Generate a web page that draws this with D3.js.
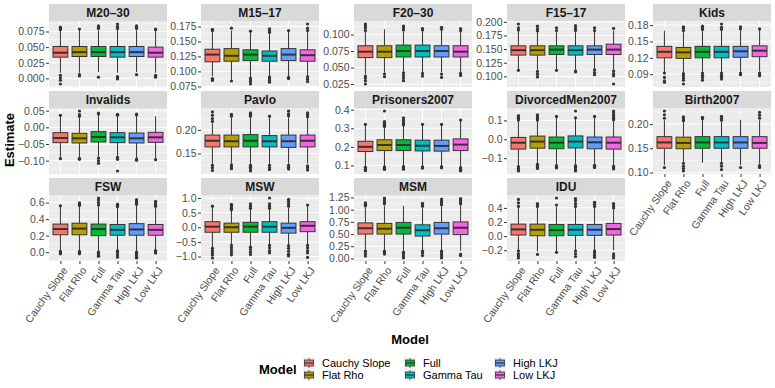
<!DOCTYPE html>
<html>
<head>
<meta charset="utf-8">
<script src="https://cdn.jsdelivr.net/npm/d3@7"></script>
<style>
  body { margin: 0; background: #fff; }
  svg { font-family: "Liberation Sans", Arial, sans-serif; }
</style>
</head>
<body>
<script>
// models / fill colours (ggplot hue palette)
var models = ["Cauchy Slope", "Flat Rho", "Full", "Gamma Tau", "High LKJ", "Low LKJ"];
var colors = ["#F8766D", "#B79F00", "#00BA38", "#00BFC4", "#619CFF", "#F564E3"];

var panels = ["M20–30", "M15–17", "F20–30", "F15–17", "Kids",
              "Invalids", "Pavlo", "Prisoners2007", "DivorcedMen2007", "Birth2007",
              "FSW", "MSW", "MSM", "IDU"];

var yTickLabels = [
  ["0.000", "0.025", "0.050", "0.075"],
  ["0.075", "0.100", "0.125", "0.150", "0.175"],
  ["0.025", "0.050", "0.075", "0.100"],
  ["0.100", "0.125", "0.150", "0.175", "0.200"],
  ["0.09", "0.12", "0.15", "0.18"],
  ["-0.10", "-0.05", "0.00", "0.05"],
  ["0.15", "0.20"],
  ["0.1", "0.2", "0.3", "0.4"],
  ["-0.1", "0.0", "0.1"],
  ["0.10", "0.15", "0.20"],
  ["0.0", "0.2", "0.4", "0.6"],
  ["-1.0", "-0.5", "0.0", "0.5", "1.0"],
  ["0.00", "0.25", "0.50", "0.75", "1.00", "1.25"],
  ["-0.2", "0.0", "0.2", "0.4"]
];

// [lower whisker, q1, median, q3, upper whisker] per model
var boxStats = [
  [[0.009, 0.034, 0.041, 0.051, 0.076], [0.009, 0.035, 0.042, 0.051, 0.078], [0.010, 0.035, 0.042, 0.051, 0.077],
   [0.009, 0.034, 0.042, 0.051, 0.078], [0.010, 0.035, 0.042, 0.051, 0.077], [0.009, 0.034, 0.041, 0.050, 0.076]],
  [[0.092, 0.116, 0.128, 0.137, 0.166], [0.086, 0.117, 0.126, 0.138, 0.168], [0.091, 0.118, 0.128, 0.136, 0.165],
   [0.093, 0.117, 0.126, 0.134, 0.163], [0.092, 0.118, 0.128, 0.138, 0.166], [0.092, 0.117, 0.127, 0.136, 0.166]],
  [[0.040, 0.065, 0.074, 0.083, 0.104], [0.042, 0.065, 0.074, 0.083, 0.108], [0.044, 0.066, 0.075, 0.084, 0.105],
   [0.043, 0.066, 0.075, 0.084, 0.105], [0.043, 0.066, 0.075, 0.083, 0.106], [0.043, 0.066, 0.074, 0.083, 0.104]],
  [[0.113, 0.139, 0.148, 0.156, 0.183], [0.112, 0.139, 0.148, 0.156, 0.180], [0.112, 0.140, 0.149, 0.156, 0.181],
   [0.113, 0.139, 0.148, 0.156, 0.181], [0.114, 0.140, 0.149, 0.156, 0.182], [0.113, 0.140, 0.149, 0.159, 0.184]],
  [[0.094, 0.120, 0.131, 0.141, 0.170], [0.093, 0.119, 0.130, 0.139, 0.167], [0.095, 0.120, 0.131, 0.141, 0.169],
   [0.094, 0.120, 0.131, 0.141, 0.169], [0.095, 0.121, 0.132, 0.141, 0.170], [0.095, 0.122, 0.133, 0.142, 0.171]],
  [[-0.092, -0.046, -0.032, -0.016, 0.034], [-0.090, -0.047, -0.033, -0.018, 0.030], [-0.088, -0.044, -0.029, -0.013, 0.037],
   [-0.088, -0.046, -0.030, -0.016, 0.033], [-0.092, -0.047, -0.033, -0.017, 0.034], [-0.095, -0.045, -0.030, -0.015, 0.033]],
  [[0.128, 0.164, 0.177, 0.189, 0.214], [0.129, 0.164, 0.176, 0.189, 0.226], [0.128, 0.164, 0.177, 0.190, 0.226],
   [0.128, 0.164, 0.176, 0.188, 0.226], [0.128, 0.163, 0.176, 0.189, 0.227], [0.129, 0.164, 0.177, 0.189, 0.225]],
  [[0.095, 0.175, 0.200, 0.230, 0.318], [0.095, 0.180, 0.210, 0.238, 0.305], [0.097, 0.180, 0.210, 0.238, 0.312],
   [0.097, 0.178, 0.206, 0.236, 0.318], [0.097, 0.177, 0.205, 0.236, 0.318], [0.092, 0.180, 0.212, 0.243, 0.340]],
  [[-0.140, -0.052, -0.018, 0.010, 0.097], [-0.128, -0.047, -0.012, 0.017, 0.098], [-0.135, -0.050, -0.018, 0.012, 0.118],
   [-0.135, -0.046, -0.012, 0.018, 0.110], [-0.133, -0.050, -0.016, 0.012, 0.118], [-0.135, -0.052, -0.018, 0.012, 0.098]],
  [[0.115, 0.150, 0.162, 0.174, 0.208], [0.122, 0.149, 0.161, 0.173, 0.204], [0.120, 0.150, 0.162, 0.174, 0.208],
   [0.122, 0.150, 0.162, 0.174, 0.205], [0.115, 0.150, 0.162, 0.174, 0.209], [0.117, 0.150, 0.161, 0.174, 0.208]],
  [[0.020, 0.210, 0.280, 0.340, 0.555], [0.020, 0.210, 0.285, 0.350, 0.555], [0.010, 0.200, 0.280, 0.340, 0.550],
   [0.025, 0.205, 0.270, 0.335, 0.540], [0.015, 0.205, 0.275, 0.345, 0.570], [0.025, 0.205, 0.270, 0.335, 0.540]],
  [[-0.69, -0.17, 0.02, 0.19, 0.70], [-0.60, -0.17, 0.00, 0.14, 0.58], [-0.65, -0.17, 0.02, 0.17, 0.62],
   [-0.60, -0.17, 0.02, 0.19, 0.62], [-0.60, -0.20, -0.02, 0.14, 0.68], [-0.60, -0.15, 0.05, 0.19, 0.74]],
  [[0.18, 0.50, 0.62, 0.73, 1.05], [0.17, 0.50, 0.61, 0.72, 1.08], [0.16, 0.50, 0.63, 0.74, 1.08],
   [0.17, 0.46, 0.58, 0.69, 1.03], [0.17, 0.50, 0.62, 0.74, 1.07], [0.16, 0.49, 0.63, 0.75, 1.09]],
  [[-0.19, 0.015, 0.095, 0.17, 0.40], [-0.22, 0.005, 0.09, 0.17, 0.40], [-0.22, 0.005, 0.085, 0.165, 0.41],
   [-0.19, 0.01, 0.09, 0.165, 0.40], [-0.19, 0.01, 0.09, 0.165, 0.40], [-0.20, 0.015, 0.10, 0.18, 0.38]]
];

var outliers = [
  [[0.078, 0.080, 0.082, 0.005, 0.001, -0.003, -0.009], [0.079, 0.006, 0.004], [0.080, 0.082, 0.084, 0.002],
   [0.080, 0.083, 0.087, 0.003, 0.001, -0.001], [0.080, 0.082, 0.084, 0.006], [0.078, 0.079, 0.005, 0.003, 0.002]],
  [[0.168, 0.170, 0.088, 0.086, 0.085], [0.172, 0.084], [0.167, 0.089, 0.086, 0.083, 0.079],
   [0.165, 0.168, 0.171, 0.091, 0.088, 0.085, 0.082], [0.168, 0.090, 0.088], [0.168, 0.172, 0.179, 0.091, 0.087, 0.083]],
  [[0.106, 0.110, 0.113, 0.116, 0.037, 0.034, 0.030, 0.025], [0.040, 0.036], [0.107, 0.110, 0.113, 0.042, 0.038, 0.034, 0.030],
   [0.107, 0.109, 0.041, 0.037], [0.108, 0.111, 0.040, 0.035], [0.106, 0.109, 0.041, 0.038]],
  [[0.185, 0.189, 0.196, 0.111], [0.183, 0.187, 0.192, 0.109, 0.104, 0.099], [0.184, 0.189, 0.111],
   [0.184, 0.188, 0.193, 0.110, 0.108], [0.184, 0.189, 0.112, 0.107, 0.103], [0.188, 0.110, 0.105, 0.101, 0.086]],
  [[0.092, 0.084, 0.078, 0.075], [0.170, 0.174, 0.177, 0.091, 0.087, 0.083, 0.079, 0.072], [0.172, 0.175, 0.178, 0.092, 0.088, 0.084, 0.079],
   [0.172, 0.176, 0.182, 0.092, 0.088, 0.085, 0.081], [0.173, 0.177, 0.092, 0.089], [0.173, 0.092, 0.089, 0.087]],
  [[0.036, -0.094], [0.033, 0.038, 0.049, -0.093, -0.096], [0.040, 0.043, -0.092, -0.100, -0.108],
   [0.036, 0.039, -0.090, -0.096, -0.131], [0.037, 0.040, -0.095, -0.099], [-0.097]],
  [[0.218, 0.224, 0.231, 0.238, 0.125, 0.120, 0.114], [0.229, 0.233, 0.126, 0.122, 0.118], [0.229, 0.233, 0.236, 0.125, 0.121, 0.117, 0.113],
   [0.229, 0.125, 0.120, 0.116], [0.230, 0.234, 0.240, 0.125, 0.121, 0.117], [0.228, 0.232, 0.236, 0.124, 0.120, 0.115]],
  [[0.321, 0.090, 0.080, 0.072], [0.309, 0.315, 0.322, 0.330, 0.336, 0.393, 0.092, 0.085, 0.078], [0.318, 0.325, 0.335, 0.345, 0.356, 0.094, 0.088, 0.080],
   [0.321, 0.093, 0.085], [0.321, 0.094, 0.087], [0.344, 0.088, 0.080, 0.073, 0.070]],
  [[0.102, 0.110, 0.118, 0.125, -0.145, -0.155, -0.163, -0.168], [0.102, 0.110, 0.120, 0.130, -0.133, -0.140, -0.148, -0.155], [0.121, -0.140, -0.148, -0.152],
   [0.114, 0.150, -0.140, -0.150, -0.160, -0.168], [0.121, -0.138, -0.146, -0.150], [0.103, 0.110, 0.118, 0.128, 0.140, 0.150, -0.142, -0.150, -0.157]],
  [[0.212, 0.219, 0.227, 0.110], [0.207, 0.211, 0.215, 0.119, 0.113, 0.108, 0.103], [0.211, 0.214],
   [0.208, 0.212, 0.216, 0.119, 0.113, 0.106], [0.110], [0.212, 0.218, 0.224, 0.114, 0.110]],
  [[0.56, 0.01, -0.01, -0.02], [0.565, 0.58, 0.595, 0.01, -0.005, -0.02], [0.57, 0.60, 0.63, 0.655, 0.0, -0.02, -0.04, -0.05],
   [0.55, 0.565, 0.58, 0.015, 0.0, -0.03, -0.06], [0.58, 0.60, 0.62, 0.635, 0.0, -0.02, -0.04, -0.06, -0.07], [0.555, 0.575, 0.595, 0.615, 0.02, 0.005, -0.01]],
  [[0.72, -0.72, -0.80, -0.88, -0.95, -1.05], [0.60, 0.65, 0.70, 0.75, 0.78, -0.62, -0.70, -0.78, -0.86, -0.94], [0.65, 0.72, 0.80, -0.68, -0.76, -0.85, -0.93],
   [0.65, 0.72, 0.80, 1.00, -0.62, -0.70, -0.80, -0.88], [0.72, 0.80, 0.88, 0.95, -0.63, -0.72, -0.82, -0.92, -0.98], [0.76, -0.62, -0.70, -0.80, -0.88, -1.03]],
  [[1.08, 1.11, 1.14, 0.15, 0.10, 0.05], [1.12, 1.16, 1.20, 1.24, 0.15, 0.12, 0.09], [0.13, 0.09, 0.05, 0.01],
   [1.07, 1.10, 1.13, 0.15, 0.11, 0.06], [1.10, 1.14, 1.18, 1.22, 0.15, 0.11, 0.07, 0.03, 0.01], [1.12, 1.16, 1.20, 1.23, 0.09, 0.06]],
  [[0.42, 0.47, 0.52, -0.21, -0.25, -0.28, -0.31], [0.42, 0.44, 0.46, -0.26], [0.44, 0.54, -0.23],
   [0.42, 0.46, 0.50, 0.53, -0.21, -0.25, -0.29], [0.42, 0.45, 0.48, -0.21, -0.24, -0.27, -0.30], [0.40, 0.43, 0.46, -0.25, -0.28, -0.31]]
];

var width = 775, height = 388;
var colLeft = [49, 201, 354, 507, 653],
    panelW = 118, stripH = 17, panelH = 66, rowStep = 87, top0 = 4;

var svg = d3.select("body").append("svg")
    .attr("width", width)
    .attr("height", height);

var minus = function (s) { return s.replace("-", "\u2212"); };

panels.forEach(function (name, i) {
    var row = Math.floor(i / 5), col = i % 5;
    var x0 = colLeft[col], st = top0 + row * rowStep, y0 = st + stripH, y1 = y0 + panelH;
    var g = svg.append("g");

    // strip
    g.append("rect").attr("x", x0).attr("y", st).attr("width", panelW).attr("height", stripH).attr("fill", "#D9D9D9");
    g.append("text").attr("x", x0 + panelW / 2).attr("y", st + stripH / 2 + 4.3)
        .attr("text-anchor", "middle").attr("font-size", "12px").attr("font-weight", "bold")
        .attr("fill", "#1A1A1A").text(name);

    var all = d3.merge(boxStats[i]).concat(d3.merge(outliers[i]));
    var ext = d3.extent(all), pad = (ext[1] - ext[0]) * 0.05;
    var y = d3.scaleLinear().domain([ext[0] - pad, ext[1] + pad]).range([y1, y0]);
    var x = d3.scalePoint().domain(models).range([x0, x0 + panelW]).padding(0.6);
    var unit = x.step();

    g.append("rect").attr("x", x0).attr("y", y0).attr("width", panelW).attr("height", panelH).attr("fill", "#EBEBEB");

    var ticks = yTickLabels[i].map(function (s) { return +s; });
    var step = ticks[1] - ticks[0];
    var minor = [];
    for (var v = ticks[0] - step / 2; v <= y.domain()[1]; v += step) {
        if (v >= y.domain()[0]) minor.push(v);
    }
    g.selectAll(".minor").data(minor).enter().append("line")
        .attr("x1", x0).attr("x2", x0 + panelW)
        .attr("y1", function (d) { return y(d); }).attr("y2", function (d) { return y(d); })
        .attr("stroke", "#fff").attr("stroke-width", 0.5);
    g.selectAll(".major").data(ticks).enter().append("line")
        .attr("x1", x0).attr("x2", x0 + panelW)
        .attr("y1", function (d) { return y(d); }).attr("y2", function (d) { return y(d); })
        .attr("stroke", "#fff").attr("stroke-width", 1);
    g.selectAll(".vgrid").data(models).enter().append("line")
        .attr("x1", function (d) { return x(d); }).attr("x2", function (d) { return x(d); })
        .attr("y1", y0).attr("y2", y1)
        .attr("stroke", "#fff").attr("stroke-width", 1);

    // y axis
    var ya = g.append("g").attr("transform", "translate(" + x0 + ",0)")
        .call(d3.axisLeft(y).tickValues(ticks).tickSize(3).tickPadding(1.5)
            .tickFormat(function (d, k) { return minus(yTickLabels[i][k]); }));
    ya.select(".domain").remove();
    ya.selectAll("line").attr("stroke", "#333333");
    ya.selectAll("text").attr("fill", "#4D4D4D").attr("font-size", "10.5px")
        .attr("font-family", "Liberation Sans, Arial, sans-serif");

    // boxes
    var bw = unit * 0.78;
    models.forEach(function (m, k) {
        var s = boxStats[i][k], cx = x(m);
        g.selectAll(".out" + k).data(outliers[i][k]).enter().append("circle")
            .attr("cx", cx).attr("cy", function (d) { return y(d); }).attr("r", 1.6)
            .attr("fill", "#333333");
        g.append("line").attr("x1", cx).attr("x2", cx).attr("y1", y(s[0])).attr("y2", y(s[1]))
            .attr("stroke", "#333333").attr("stroke-width", 1);
        g.append("line").attr("x1", cx).attr("x2", cx).attr("y1", y(s[3])).attr("y2", y(s[4]))
            .attr("stroke", "#333333").attr("stroke-width", 1);
        g.append("rect").attr("x", cx - bw / 2).attr("y", y(s[3]))
            .attr("width", bw).attr("height", y(s[1]) - y(s[3]))
            .attr("fill", colors[k]).attr("stroke", "#333333").attr("stroke-width", 1);
        g.append("line").attr("x1", cx - bw / 2).attr("x2", cx + bw / 2)
            .attr("y1", y(s[2])).attr("y2", y(s[2]))
            .attr("stroke", "#333333").attr("stroke-width", 2);
    });

    // x axis only on the lowest panel in each column
    if (i + 5 >= panels.length) {
        var xa = g.append("g").attr("transform", "translate(0," + y1 + ")")
            .call(d3.axisBottom(x).tickSize(3));
        xa.select(".domain").remove();
        xa.selectAll("line").attr("stroke", "#333333");
        xa.selectAll("text")
            .attr("y", 0).attr("dy", "0.71em")
            .attr("text-anchor", "end")
            .attr("transform", "translate(1,5) rotate(-55)")
            .attr("fill", "#4D4D4D").attr("font-size", "10.5px")
            .attr("font-family", "Liberation Sans, Arial, sans-serif");
    }
});

// axis titles
svg.append("text").attr("x", 410).attr("y", 344).attr("text-anchor", "middle")
    .attr("font-size", "13px").attr("font-weight", "bold").text("Model");
svg.append("text").attr("transform", "translate(14,140) rotate(-90)").attr("text-anchor", "middle")
    .attr("font-size", "13px").attr("font-weight", "bold").text("Estimate");

// legend
var leg = svg.append("g");
leg.append("text").attr("x", 259).attr("y", 374).attr("font-size", "13px").attr("font-weight", "bold").text("Model");
var legX = [303, 404, 494], legY = [357, 369];
models.forEach(function (m, k) {
    var lx = legX[Math.floor(k / 2)], ly = legY[k % 2];
    leg.append("rect").attr("x", lx).attr("y", ly).attr("width", 12).attr("height", 12).attr("fill", "#F2F2F2");
    leg.append("line").attr("x1", lx + 6).attr("x2", lx + 6).attr("y1", ly + 1).attr("y2", ly + 11)
        .attr("stroke", "#333333").attr("stroke-width", 0.8);
    leg.append("rect").attr("x", lx + 1.5).attr("y", ly + 3).attr("width", 9).attr("height", 6)
        .attr("fill", colors[k]).attr("stroke", "#333333").attr("stroke-width", 0.8);
    leg.append("line").attr("x1", lx + 1.5).attr("x2", lx + 10.5).attr("y1", ly + 6).attr("y2", ly + 6)
        .attr("stroke", "#333333").attr("stroke-width", 1.2);
    leg.append("text").attr("x", lx + 19).attr("y", ly + 10).attr("font-size", "11px").text(m);
});
</script>
</body>
</html>
